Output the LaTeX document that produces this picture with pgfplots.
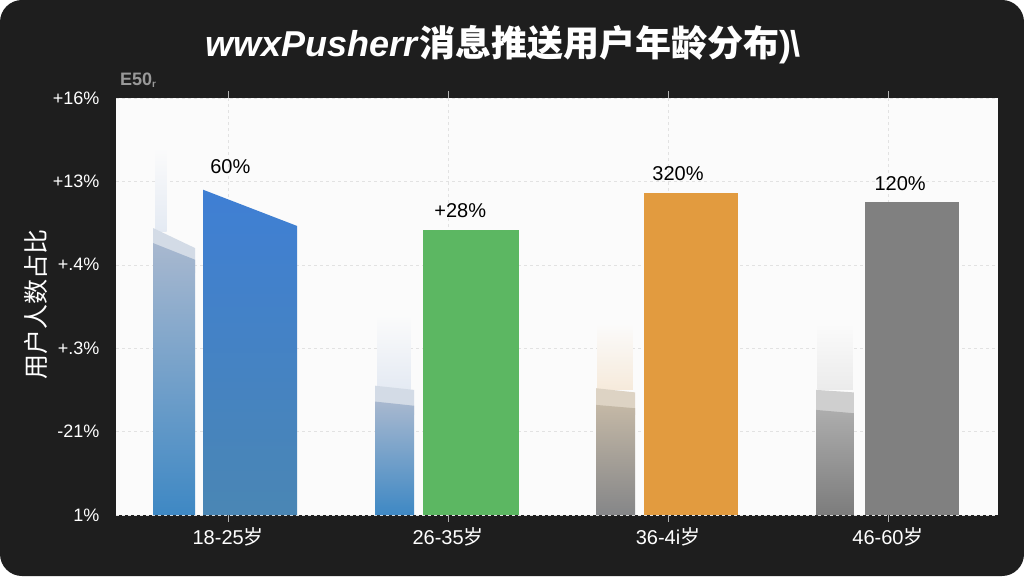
\documentclass[border=0pt]{standalone}
\usepackage{pgfplots}
\pgfplotsset{compat=1.18}
\usepackage{fontspec}
\setmainfont{Liberation Sans}
\newfontfamily\cjk{Noto Sans CJK SC}
\definecolor{bgdark}{HTML}{1E1E1E}
\definecolor{plotbg}{HTML}{FBFBFB}
\definecolor{gridc}{HTML}{E2E2E2}
\definecolor{barblue}{HTML}{3F7FD4}
\definecolor{barbluelo}{HTML}{4A86B4}
\definecolor{bargreen}{HTML}{5CB762}
\definecolor{barorange}{HTML}{E29B3F}
\definecolor{bargray}{HTML}{808080}
\definecolor{ghostlight}{HTML}{D3DBE6}
\definecolor{ghostbluetop}{HTML}{A8B8CF}
\definecolor{ghostbluebot}{HTML}{3E88C4}
\definecolor{ghostortop}{HTML}{C4B8A6}
\definecolor{ghostorlight}{HTML}{DDD3C4}
\definecolor{ghostorbot}{HTML}{858688}
\definecolor{ghostgrtop}{HTML}{ADADAD}
\definecolor{ghostgrlight}{HTML}{CFCFCF}
\definecolor{ghostgrbot}{HTML}{7C7C7C}
\definecolor{glowblue}{HTML}{E4EAF3}
\definecolor{gloworange}{HTML}{F6EADB}
\definecolor{glowgray}{HTML}{EBEBEB}
\begin{document}
\begin{tikzpicture}
\fill[white] (0pt,0pt) rectangle (1024pt,576pt);
\fill[bgdark, rounded corners=22pt] (0pt,0pt) rectangle (1024pt,576pt);
\node[text=white, font=\fontsize{36}{40}\selectfont\bfseries] at (503pt,531pt)
  {\textit{wwxPusherr}{\cjk 消息推送用户年龄分布})\kern-1pt\textbackslash};
\node[text=gray!80, font=\fontsize{18}{20}\selectfont\bfseries] at (138pt,496pt) {E50\raisebox{-2pt}{\fontsize{10}{10}\selectfont r}};
\node[text=white, rotate=90, font=\fontsize{25}{27}\selectfont\cjk] at (36pt,272pt) {用户人数占比};
\begin{axis}[
  at={(116pt,61pt)}, anchor=south west, scale only axis,
  width=882pt, height=417pt,
  xmin=-0.51, xmax=3.5, ymin=0, ymax=5,
  axis background/.style={fill=plotbg},
  axis line style={draw=none},
  xtick={0,1,2,3},
  xticklabels={18-25{\cjk 岁}, 26-35{\cjk 岁}, 36-4i{\cjk 岁}, 46-60{\cjk 岁}},
  ytick={0,1,2,3,4,5},
  yticklabels={1\%, -21\%, +.3\%, +.4\%, +13\%, +16\%},
  xmajorgrids, ymajorgrids,
  major grid style={dashed, draw=gridc},
  tick align=outside, major tick length=7pt,
  xtick style={draw=gray!60, thick},
  ytick style={draw=none},
  yticklabel style={text=white, font=\fontsize{18}{20}\selectfont, xshift=-6pt},
  xticklabel style={text=white, font=\fontsize{20}{22}\selectfont, yshift=-2pt},
]
% faint glows above the ghost bars
\addplot[draw=none, top color=plotbg, bottom color=glowblue] coordinates {(-0.33,3.4) (-0.33,4.4) (-0.28,4.4) (-0.28,3.4)} -- cycle;
\addplot[draw=none, top color=plotbg, bottom color=glowblue] coordinates {(0.68,1.5) (0.68,2.4) (0.83,2.4) (0.83,1.5)} -- cycle;
\addplot[draw=none, top color=plotbg, bottom color=gloworange] coordinates {(1.68,1.5) (1.68,2.3) (1.84,2.3) (1.84,1.5)} -- cycle;
\addplot[draw=none, top color=plotbg, bottom color=glowgray] coordinates {(2.68,1.5) (2.68,2.3) (2.84,2.3) (2.84,1.5)} -- cycle;
% ghost bars (light top bands)
\addplot[draw=none, fill=ghostlight] coordinates {(-0.341,3.1) (-0.341,3.44) (-0.15,3.20) (-0.15,2.9)} -- cycle;
\addplot[draw=none, fill=ghostlight] coordinates {(0.668,1.25) (0.668,1.55) (0.845,1.50) (0.845,1.2)} -- cycle;
\addplot[draw=none, fill=ghostorlight] coordinates {(1.673,1.2) (1.673,1.52) (1.85,1.47) (1.85,1.2)} -- cycle;
\addplot[draw=none, fill=ghostgrlight] coordinates {(2.673,1.15) (2.673,1.50) (2.845,1.47) (2.845,1.1)} -- cycle;
% ghost bars (dark bodies)
\addplot[draw=none, top color=ghostbluetop, bottom color=ghostbluebot] coordinates {(-0.341,0) (-0.341,3.26) (-0.15,3.06) (-0.15,0)} -- cycle;
\addplot[draw=none, top color=ghostbluetop, bottom color=ghostbluebot] coordinates {(0.668,0) (0.668,1.36) (0.845,1.31) (0.845,0)} -- cycle;
\addplot[draw=none, top color=ghostortop, bottom color=ghostorbot] coordinates {(1.673,0) (1.673,1.32) (1.85,1.28) (1.85,0)} -- cycle;
\addplot[draw=none, top color=ghostgrtop, bottom color=ghostgrbot] coordinates {(2.673,0) (2.673,1.26) (2.845,1.22) (2.845,0)} -- cycle;
% main bars
\addplot[draw=none, top color=barblue, bottom color=barbluelo] coordinates {(-0.114,0) (-0.114,3.90) (0.314,3.465) (0.314,0)} -- cycle;
\addplot[draw=none, fill=bargreen] coordinates {(0.886,0) (0.886,3.42) (1.323,3.42) (1.323,0)} -- cycle;
\addplot[draw=none, fill=barorange] coordinates {(1.891,0) (1.891,3.86) (2.318,3.86) (2.318,0)} -- cycle;
\addplot[draw=none, fill=bargray] coordinates {(2.895,0) (2.895,3.75) (3.323,3.75) (3.323,0)} -- cycle;
% value labels
\node[font=\fontsize{20}{22}\selectfont] at (axis cs:0.01,4.18) {60\%};
\node[font=\fontsize{20}{22}\selectfont] at (axis cs:1.055,3.645) {+28\%};
\node[font=\fontsize{20}{22}\selectfont] at (axis cs:2.045,4.09) {320\%};
\node[font=\fontsize{20}{22}\selectfont] at (axis cs:3.055,3.97) {120\%};
\end{axis}
\end{tikzpicture}
\end{document}
